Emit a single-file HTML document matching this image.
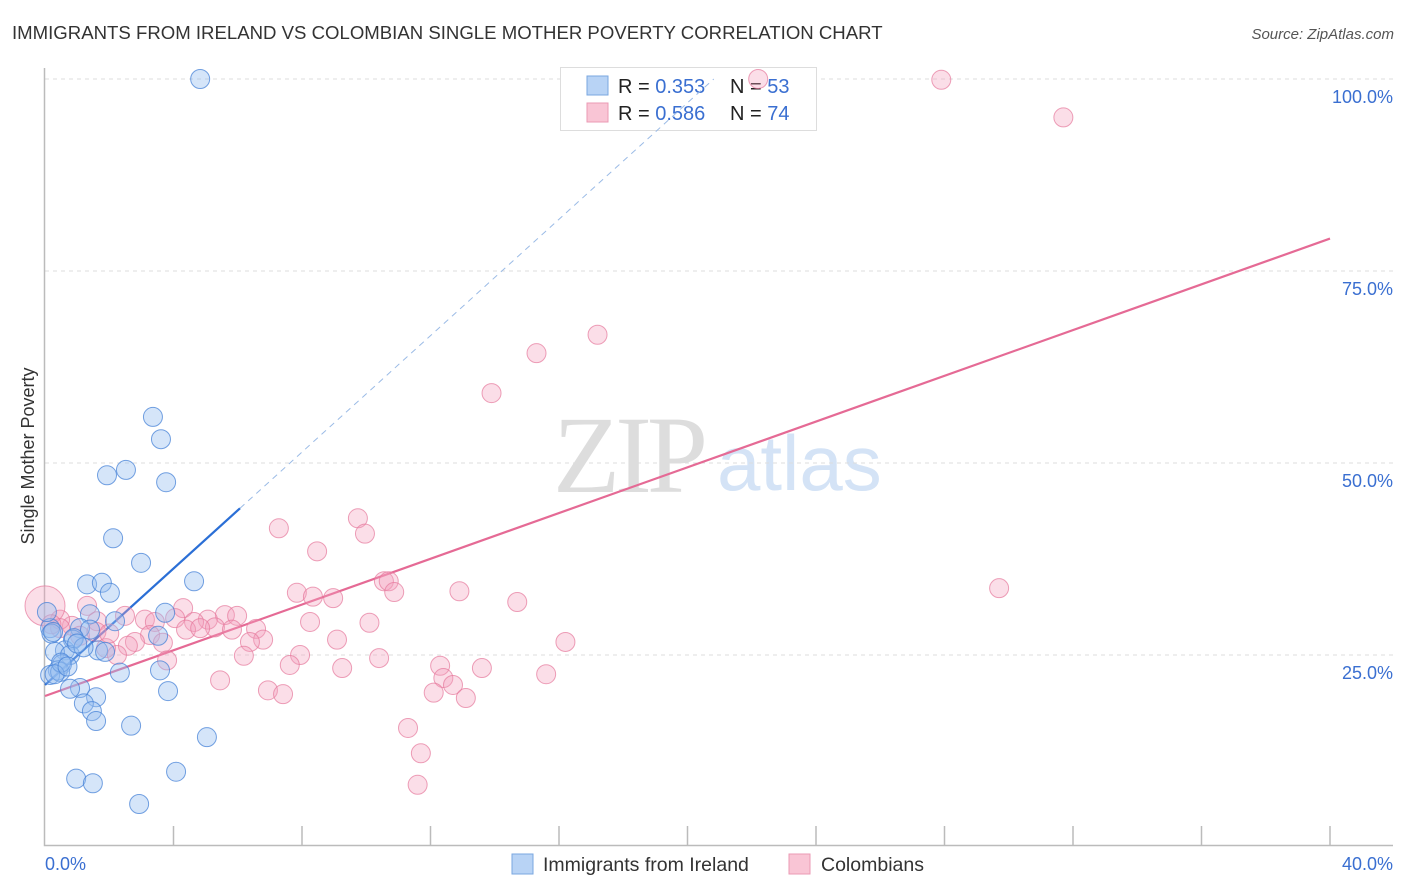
<!DOCTYPE html>
<html><head><meta charset="utf-8"><style>
body{margin:0;background:#fff;font-family:"Liberation Sans",sans-serif}
svg{display:block}
</style></head><body>
<svg id="chart" width="1406" height="892" xmlns="http://www.w3.org/2000/svg">
<text x="12" y="39" font-size="18.6" fill="#333">IMMIGRANTS FROM IRELAND VS COLOMBIAN SINGLE MOTHER POVERTY CORRELATION CHART</text>
<text x="1394" y="39" font-size="15" fill="#555" font-style="italic" text-anchor="end">Source: ZipAtlas.com</text>
<text transform="translate(34,456) rotate(-90)" font-size="18" fill="#333" text-anchor="middle">Single Mother Poverty</text>
<g>
<text x="553" y="492" font-size="110" font-family="Liberation Serif,serif" fill="#ddd" letter-spacing="-5">ZIP</text>
<text x="717" y="490" font-size="78" fill="#d4e3f6">atlas</text>
</g>
<g id="grid"></g>
<g id="axes"></g>
<g>
<rect x="560.5" y="67.5" width="256" height="63" fill="#fff" stroke="#ddd"/>
<rect x="587" y="76" width="21" height="19" fill="#b8d3f5" stroke="#7aa7e0"/>
<rect x="587" y="103" width="21" height="19" fill="#f9c5d5" stroke="#eb9ab4"/>
<text x="618" y="93" font-size="20" fill="#222">R = <tspan fill="#3a6fd1">0.353</tspan><tspan x="730">N = </tspan><tspan fill="#3a6fd1">53</tspan></text>
<text x="618" y="120" font-size="20" fill="#222">R = <tspan fill="#3a6fd1">0.586</tspan><tspan x="730">N = </tspan><tspan fill="#3a6fd1">74</tspan></text>
</g>
<g id="trend"></g>
<g id="points"></g>
<g>
<rect x="512" y="854" width="21" height="20" fill="#b8d3f5" stroke="#7aa7e0"/>
<text x="543" y="871" font-size="19.5" fill="#333">Immigrants from Ireland</text>
<rect x="789" y="854" width="21" height="20" fill="#f9c5d5" stroke="#eb9ab4"/>
<text x="821" y="871" font-size="19.5" fill="#333">Colombians</text>
</g>
</svg>
<script>
const blueX=[4.83,3.36,3.61,2.52,1.93,3.77,2.12,2.99,1.31,1.77,4.64,2.02,3.74,1.40,2.18,0.16,1.09,3.52,1.40,0.87,0.62,1.65,1.87,0.31,0.78,0.53,0.40,0.16,2.33,3.58,1.09,0.78,1.59,3.83,1.21,1.46,1.59,2.68,5.04,0.97,1.49,4.08,2.93,0.47,0.06,0.2,0.9,1.2,0.5,0.3,1.0,0.7,0.25];
const blueY=[100,56.0,53.1,49.1,48.4,47.5,40.2,37.0,34.2,34.4,34.6,33.1,30.5,30.3,29.4,28.5,28.5,27.5,28.3,27.0,25.6,25.6,25.4,25.4,25.0,23.8,23.0,22.4,22.7,23.0,20.7,20.6,19.5,20.3,18.7,17.7,16.4,15.8,14.3,8.9,8.3,9.8,5.6,22.8,30.6,27.8,27.2,26.0,24.0,22.5,26.5,23.5,28.0];
const pinkX=[22.2,27.9,31.7,17.2,15.3,13.9,7.28,9.74,9.96,8.47,10.55,10.7,10.87,7.84,8.34,8.97,12.9,14.7,29.7,4.30,1.31,2.49,3.11,4.05,5.60,5.98,5.07,4.64,3.42,1.62,0.84,0.47,8.25,10.1,5.29,5.82,6.57,4.39,4.83,1.09,3.27,6.79,6.38,9.09,16.2,2.80,2.58,3.67,1.90,2.24,6.19,7.94,10.4,3.8,7.62,12.3,9.25,13.6,15.6,12.4,5.45,12.7,6.94,7.41,12.1,13.1,11.3,11.7,11.6,0.0,0.47,1.6,0.2,2.0];
const pinkY=[100,99.9,95.0,66.7,64.3,59.1,41.5,42.8,40.8,38.5,34.6,34.6,33.2,33.1,32.6,32.4,33.3,31.9,33.7,31.1,31.4,30.1,29.6,29.8,30.2,30.1,29.6,29.3,29.3,29.4,28.8,29.6,29.3,29.2,28.6,28.3,28.4,28.3,28.5,27.5,27.6,27.0,26.7,27.0,26.7,26.7,26.2,26.6,25.9,25.0,24.9,25.0,24.6,24.3,23.7,23.6,23.3,23.3,22.5,22.0,21.7,21.1,20.4,19.9,20.1,19.4,15.5,12.2,8.1,31.4,28.5,28.0,29.0,27.8];
const blueTrend=[21.1,3.79];   // intercept, slope
const pinkTrend=[19.66,1.489];
const yTicks=[25,50,75,100];
const yTickLabels=["25.0%","50.0%","75.0%","100.0%"];
const xTickLabels=["0.0%","40.0%"];

const NS="http://www.w3.org/2000/svg";
const sx=v=>45+v/40*1285;
const sy=v=>847-v/25*192;
function mk(tag,attrs,parent){const e=document.createElementNS(NS,tag);for(const k in attrs)e.setAttribute(k,attrs[k]);parent.appendChild(e);return e;}
const grid=document.getElementById('grid'),axes=document.getElementById('axes'),trend=document.getElementById('trend'),pts=document.getElementById('points');
yTicks.forEach((t,i)=>{
 const l=mk('line',{x1:45,x2:1393,y1:sy(t),y2:sy(t),stroke:'#ddd','stroke-dasharray':'4,4'},grid);
 
 
 const tx=mk('text',{x:1393,y:sy(t)+24,'font-size':18,fill:'#3a6fd1','text-anchor':'end'},axes);
 tx.textContent=yTickLabels[i];
 
 
});
const ax=mk('path',{d:'M44.5,68 V845.5 H1393',fill:'none',stroke:'#bbb','stroke-width':1.5},axes);


for(let i=1;i<=10;i++){
 const x=sx(i*4);
 const t=mk('line',{x1:x,x2:x,y1:826,y2:845,stroke:'#bbb','stroke-width':1.5},axes);
 
 
}
const xl0=mk('text',{x:45,y:870,'font-size':18,fill:'#3a6fd1'},axes);xl0.textContent=xTickLabels[0];


const xl1=mk('text',{x:1393,y:870,'font-size':18,fill:'#3a6fd1','text-anchor':'end'},axes);xl1.textContent=xTickLabels[1];


// trends
const bEnd=6.07, bDashEnd=(100-blueTrend[0])/blueTrend[1];
const bd=mk('line',{x1:sx(bEnd),y1:sy(blueTrend[0]+blueTrend[1]*bEnd),x2:sx(bDashEnd),y2:sy(100),stroke:'#9bbbe6','stroke-width':1,'stroke-dasharray':'6,5'},trend);


const bl=mk('line',{x1:sx(0),y1:sy(blueTrend[0]),x2:sx(bEnd),y2:sy(blueTrend[0]+blueTrend[1]*bEnd),stroke:'#2b6fd6','stroke-width':2.2},trend);


const pl=mk('line',{x1:sx(0),y1:sy(pinkTrend[0]),x2:sx(40),y2:sy(pinkTrend[0]+pinkTrend[1]*40),stroke:'#e56a95','stroke-width':2.2},trend);


// points
pinkX.forEach((x,i)=>{
 const r=(i==69)?20:9.5;
 const c=mk('circle',{cx:sx(x),cy:sy(pinkY[i]),r:r,fill:'rgba(244,160,188,0.35)',stroke:'rgba(230,120,155,0.7)','stroke-width':1},pts);
 
 
});
blueX.forEach((x,i)=>{
 const c=mk('circle',{cx:sx(x),cy:sy(blueY[i]),r:9.5,fill:'rgba(150,190,240,0.4)',stroke:'rgba(70,130,215,0.75)','stroke-width':1},pts);
 
 
});
</script>
</body></html>
